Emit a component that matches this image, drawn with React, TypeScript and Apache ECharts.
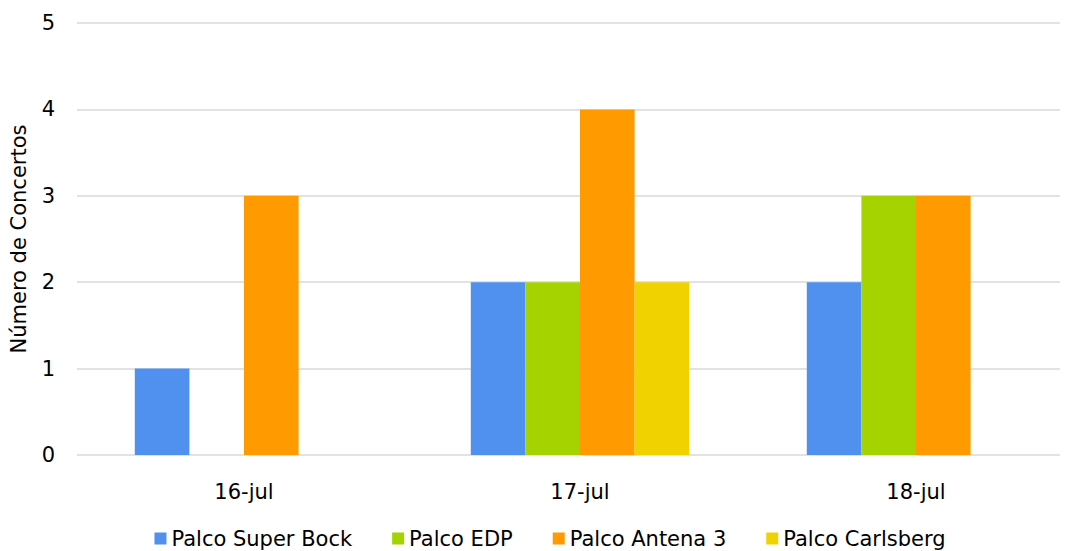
import React, { useEffect, useRef } from "react";
import * as echarts from "echarts";

const categories = ["16-jul", "17-jul", "18-jul"];
const seriesNames = ["Palco Super Bock", "Palco EDP", "Palco Antena 3", "Palco Carlsberg"];
const superBock = [1, 2, 2];
const edp = [0, 2, 3];
const antena3 = [3, 4, 3];
const carlsberg = [0, 2, 0];
const yTicks = { min: 0, max: 5, interval: 1 };
const colors = ["#5091EF", "#A5D300", "#FF9A00", "#F0D200"];

export default function App() {
  const ref = useRef<HTMLDivElement>(null);
  useEffect(() => {
    const chart = echarts.init(ref.current!, null, { renderer: "svg" });
    const font = "DejaVu Sans";
    const values = [superBock, edp, antena3, carlsberg];
    chart.setOption({
      animation: false,
      textStyle: { fontFamily: font },
      grid: [
        { left: 77, right: 40, top: 23, bottom: 96 },
        { left: 76, right: 16, top: 23, bottom: 96 },
      ],
      legend: {
        top: 523,
        left: "center",
        icon: "rect",
        itemWidth: 12,
        itemHeight: 12,
        itemGap: 40,
        textStyle: { fontSize: 21, color: "#000", fontFamily: font },
        data: seriesNames,
      },
      xAxis: [
        {
          gridIndex: 0,
          type: "category",
          data: categories,
          show: false,
        },
        {
          gridIndex: 1,
          type: "category",
          data: categories,
          axisLine: { show: false },
          axisTick: { show: false },
          axisLabel: { color: "#000", fontSize: 21, margin: 26, fontFamily: font },
        },
      ],
      yAxis: [
        {
          gridIndex: 0,
          type: "value",
          ...yTicks,
          name: "Número de Concertos",
          nameLocation: "middle",
          nameGap: 48,
          nameTextStyle: { color: "#000", fontSize: 21, fontFamily: font },
          axisLine: { show: false },
          axisTick: { show: false },
          axisLabel: { color: "#000", fontSize: 21, margin: 22, fontFamily: font },
          splitLine: { lineStyle: { color: "#d9d9d9", width: 1.5 } },
        },
        {
          gridIndex: 1,
          type: "value",
          ...yTicks,
          show: false,
          splitLine: { show: false },
        },
      ],
      series: seriesNames.map((n, i) => ({
        name: n,
        type: "bar",
        xAxisIndex: 1,
        yAxisIndex: 1,
        data: values[i],
        barGap: "0%",
        barCategoryGap: "35%",
        itemStyle: { color: colors[i] },
      })),
    });
    return () => chart.dispose();
  }, []);
  return (
    <div style={{ width: 1073, height: 551, position: "absolute", left: 0, top: 0, overflow: "hidden" }}>
      <div ref={ref} style={{ width: 1100, height: 551 }} />
    </div>
  );
}
